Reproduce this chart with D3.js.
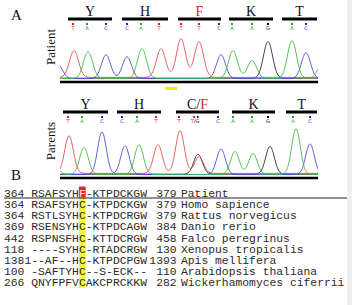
<!DOCTYPE html>
<html>
<head>
<meta charset="utf-8">
<script src="https://cdn.jsdelivr.net/npm/d3@7"></script>
<style>
  body { margin: 0; background: #eef0f4; }
  svg { display: block; }
</style>
</head>
<body>
<script>
// chromatogram peaks (scan position, height)
var patientPeaks = [
  {b: "C", x: -2, h: 14}, {b: "T", x: 14, h: 27}, {b: "A", x: 28, h: 27}, {b: "C", x: 46, h: 24},
  {b: "C", x: 67, h: 22}, {b: "A", x: 82, h: 30}, {b: "T", x: 101, h: 29},
  {b: "T", x: 121, h: 39}, {b: "T", x: 139, h: 36}, {b: "C", x: 161, h: 24},
  {b: "A", x: 173, h: 28}, {b: "A", x: 192, h: 18}, {b: "G", x: 208, h: 37},
  {b: "A", x: 232, h: 38}, {b: "C", x: 246, h: 26}, {b: "A", x: 262, h: 14}
];
var parentPeaks = [
  {b: "A", x: -6, h: 10}, {b: "T", x: 9, h: 38}, {b: "A", x: 24, h: 27}, {b: "C", x: 42, h: 43},
  {b: "C", x: 65, h: 29}, {b: "A", x: 79, h: 30}, {b: "T", x: 98, h: 29},
  {b: "T", x: 120, h: 43}, {b: "G", x: 138, h: 20}, {b: "T", x: 139, h: 17},
  {b: "C", x: 161, h: 26}, {b: "A", x: 175, h: 23}, {b: "A", x: 193, h: 21},
  {b: "G", x: 210, h: 28}, {b: "A", x: 236, h: 46}, {b: "C", x: 250, h: 31}
];
// base calls (scan position, base)
var patientCalls = [
  {x: 13, b: "T"}, {x: 27, b: "A"}, {x: 46, b: "C"}, {x: 67, b: "C"}, {x: 81, b: "A"}, {x: 99, b: "T"},
  {x: 121, b: "T"}, {x: 139, b: "T"}, {x: 159, b: "C"}, {x: 172, b: "A"}, {x: 192, b: "A"}, {x: 208, b: "G"},
  {x: 232, b: "A"}, {x: 246, b: "C"}
];
var parentCalls = [
  {x: 8, b: "T"}, {x: 22, b: "A"}, {x: 42, b: "C"}, {x: 62, b: "C"}, {x: 77, b: "A"}, {x: 96, b: "T"},
  {x: 119, b: "T"}, {x: 135, b: "T/G"}, {x: 158, b: "C"}, {x: 173, b: "A"}, {x: 192, b: "A"}, {x: 208, b: "G"},
  {x: 233, b: "A"}, {x: 250, b: "C"}
];
// codons (span in scan positions)
var patientCodons = [
  {aa: "Y", from: 8, to: 52}, {aa: "H", from: 62, to: 108}, {aa: "F", from: 118, to: 161, mut: true},
  {aa: "K", from: 169, to: 213}, {aa: "T", from: 222, to: 257}
];
var parentCodons = [
  {aa: "Y", from: 3, to: 48}, {aa: "H", from: 57, to: 101}, {aa: "C/F", from: 116, to: 159, mut: true},
  {aa: "K", from: 172, to: 215}, {aa: "T", from: 226, to: 257}
];

// alignment
var startNums = [364, 364, 364, 369, 442, 118, 1381, 100, 266];
var seqs = ["RSAFSYHF-KTPDCKGW", "RSAFSYHC-KTPDCKGW", "RSTLSYHC-KTPDCRGW", "RSENSYHC-KTPDCAGW",
  "RSPNSFHC-KTTDCRGW", "----SYHC-RTADCRGW", "--AF--HC-KTPDCPGW", "-SAFTYHC--S-ECK--", "QNYFPFVCAKCPRCKKW"];
var endNums = [379, 379, 379, 384, 458, 130, 1393, 110, 282];
var species = ["Patient", "Homo sapience", "Rattus norvegicus", "Danio rerio", "Falco peregrinus",
  "Xenopus tropicalis", "Apis mellifera", "Arabidopsis thaliana", "Wickerhamomyces ciferrii"];
var mutCol = 7; // column of the C/F site inside the sequence

var baseColor = {A: "#3cb83c", C: "#4646d2", G: "#222", T: "#e04a4a"};
var callColor = {A: "#1fa01f", C: "#2323d8", G: "#111", T: "#e02020"};

var width = 352, height = 305;
var svg = d3.select("body").append("svg")
  .attr("width", width).attr("height", height);

svg.append("rect").attr("width", 347).attr("height", height).attr("fill", "#fff");

var serif = "'Liberation Serif', 'DejaVu Serif', serif";
var mono = "'Liberation Mono', 'DejaVu Sans Mono', monospace";

// panel labels
svg.append("text").attr("x", 11).attr("y", 20).text("A")
  .attr("font-family", serif).attr("font-size", 15).attr("fill", "#111");
svg.append("text").attr("x", 11).attr("y", 180).text("B")
  .attr("font-family", serif).attr("font-size", 15).attr("fill", "#111");

var x = d3.scaleLinear().domain([0, 258]).range([60, 318]);

svg.append("defs").append("clipPath").attr("id", "clipTrace")
  .append("rect").attr("x", 60).attr("y", 0).attr("width", 258).attr("height", 305);

function drawTrace(peaks, calls, codons, opts){
  var y = d3.scaleLinear().domain([0, 40]).range([opts.base, opts.base - 40]);
  var g = svg.append("g");

  // rotated side label
  g.append("text")
    .attr("transform", "translate(" + opts.labelX + "," + opts.labelY + ") rotate(-90)")
    .attr("text-anchor", "middle")
    .attr("font-family", serif).attr("font-size", 13).attr("fill", "#111")
    .text(opts.label);

  // codon bars + amino acid labels
  g.selectAll(".codon").data(codons).enter().append("line")
    .attr("x1", function(d){ return x(d.from); })
    .attr("x2", function(d){ return x(d.to); })
    .attr("y1", opts.barY).attr("y2", opts.barY)
    .attr("stroke", "#000").attr("stroke-width", 3);
  var aa = g.selectAll(".aa").data(codons).enter().append("text")
    .attr("x", function(d){ return x((d.from + d.to) / 2); })
    .attr("y", opts.barY - 3)
    .attr("text-anchor", "middle")
    .attr("font-family", serif).attr("font-size", 14).attr("fill", "#111");
  aa.each(function(d){
    var t = d3.select(this);
    if (d.aa === "C/F"){
      t.append("tspan").text("C/");
      t.append("tspan").attr("fill", "#e02020").text("F");
    } else {
      t.text(d.aa).attr("fill", d.mut ? "#e02020" : "#111");
    }
  });

  // base calls: little square + tiny letter
  var cg = g.selectAll(".call").data(calls).enter().append("g")
    .attr("transform", function(d){ return "translate(" + x(d.x) + "," + (opts.barY + 4) + ")"; });
  cg.each(function(d){
    var c = d3.select(this);
    if (d.b === "T/G"){
      c.append("rect").attr("x", -2).attr("y", 0).attr("width", 2).attr("height", 2).attr("fill", callColor.T);
      c.append("rect").attr("x", 2).attr("y", 0).attr("width", 1.5).attr("height", 2).attr("fill", callColor.G);
      var tt = c.append("text").attr("y", 7).attr("text-anchor", "middle")
        .attr("font-family", "'DejaVu Sans', sans-serif").attr("font-size", 5);
      tt.append("tspan").attr("fill", callColor.T).text("T");
      tt.append("tspan").attr("fill", "#111").text("/G");
    } else {
      c.append("rect").attr("x", -1).attr("y", 0).attr("width", 2).attr("height", 2).attr("fill", callColor[d.b]);
      c.append("text").attr("y", 7).attr("text-anchor", "middle")
        .attr("font-family", "'DejaVu Sans', sans-serif").attr("font-size", 5)
        .attr("fill", callColor[d.b]).text(d.b);
    }
  });

  // traces, one per channel, built from the peaks
  var samples = d3.range(-4, 263, 1);
  var noise = {A: 0.6, C: 0.4, G: 0.8, T: 1.6};
  var line = d3.line()
    .x(function(d){ return x(d[0]); })
    .y(function(d){ return y(d[1]); })
    .curve(d3.curveBasis);
  var tg = g.append("g").attr("clip-path", "url(#clipTrace)");
  ["G", "T", "C", "A"].forEach(function(b){
    var pk = peaks.filter(function(p){ return p.b === b; });
    var pts = samples.map(function(s){
      var v = noise[b];
      pk.forEach(function(p){
        v += p.h * Math.exp(-Math.pow(s - p.x, 2) / (2 * opts.sigma * opts.sigma));
      });
      return [s, v];
    });
    tg.append("path").datum(pts)
      .attr("d", line)
      .attr("fill", "none")
      .attr("stroke", baseColor[b])
      .attr("stroke-width", 1)
      .attr("stroke-opacity", 0.85);
  });

  // heavy axis line
  g.append("line")
    .attr("x1", x(0)).attr("x2", x(258))
    .attr("y1", opts.axisY).attr("y2", opts.axisY)
    .attr("stroke", "#000").attr("stroke-width", 2.5);
}

drawTrace(patientPeaks, patientCalls, patientCodons,
  {base: 79, axisY: 82, barY: 19, sigma: 4.5, label: "Patient", labelX: 55, labelY: 47});
drawTrace(parentPeaks, parentCalls, parentCodons,
  {base: 175, axisY: 178, barY: 112, sigma: 4.3, label: "Parents", labelX: 55, labelY: 141});

// yellow marker under the mutated codon
svg.append("rect").attr("x", x(105)).attr("y", 87).attr("width", x(117) - x(105)).attr("height", 3)
  .attr("fill", "#f2ee00");

// ---- alignment (B) ----
var col = d3.scaleLinear().domain([0, 26]).range([4, 181]);
var cw = col(1) - col(0);
var row = d3.scaleLinear().domain([0, 8]).range([193, 282]);

// conserved C column
svg.append("rect")
  .attr("x", col(4 + mutCol)).attr("y", row(1) - 6)
  .attr("width", cw).attr("height", row(8) - row(1) + 12)
  .attr("fill", "#f7f53c");
// patient F
svg.append("rect")
  .attr("x", col(4 + mutCol)).attr("y", row(0) - 6.5)
  .attr("width", cw).attr("height", 11)
  .attr("fill", "#e0262c");
// underline of patient row
svg.append("line").attr("x1", 4).attr("x2", 347)
  .attr("y1", row(0) + 5).attr("y2", row(0) + 5)
  .attr("stroke", "#222").attr("stroke-width", 1);

var rows = svg.selectAll(".alnRow").data(seqs).enter().append("g")
  .attr("font-family", mono).attr("font-size", 11.35).attr("fill", "#2a2a2a");
rows.each(function(s, i){
  var r = d3.select(this);
  var yy = row(i) + 4;
  r.append("text").attr("x", col(0)).attr("y", yy).text(startNums[i]);
  r.selectAll("text.aa").data(s.split("")).enter().append("text")
    .attr("x", function(c, j){ return col(4 + j); })
    .attr("y", yy)
    .attr("fill", function(c, j){ return (i === 0 && j === mutCol) ? "#ffe0e0" : null; })
    .text(function(c){ return c; });
  r.append("text").attr("x", col(25.35)).attr("y", yy).attr("text-anchor", "end").text(endNums[i]);
  r.append("text").attr("x", col(26)).attr("y", yy).text(species[i]);
});
</script>
</body>
</html>
